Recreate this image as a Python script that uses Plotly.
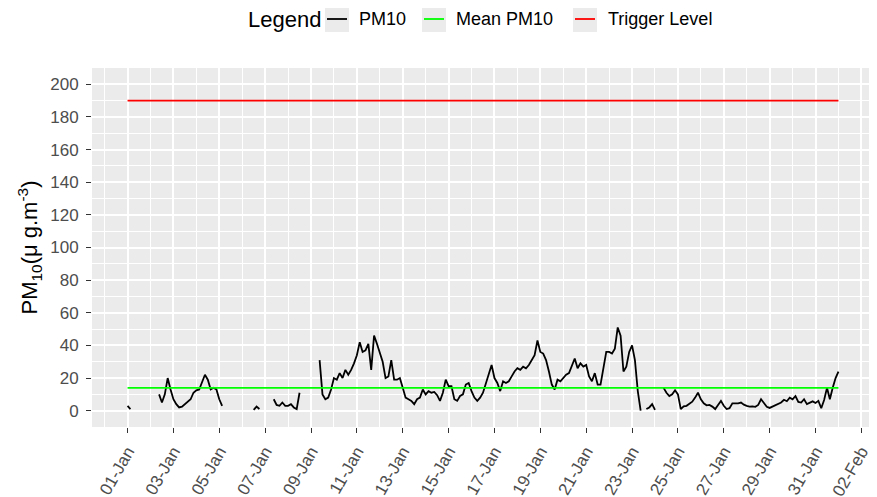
import pandas as pd
import plotly.graph_objects as go

# ---------------- data ----------------
start_time = "2021-01-01 00:00"
step = "3h"
# PM10, 3-hourly, one row per day (None = missing data)
pm10 = [
    3, 1, None, None, None, None, None, None,          # 01-Jan
    None, None, None, 10, 5, 10, 20, 13,               # 02-Jan
    7, 4, 2, 2.5, 4, 5, 7, 11,                         # 03-Jan
    12.5, 13, 17, 22, 19, 13, 14, 13,                  # 04-Jan
    7, 3, None, None, None, None, None, None,          # 05-Jan
    None, None, None, None, 0.5, 2.5, 1, None,         # 06-Jan
    None, None, None, 7, 3.5, 3, 5, 3,                 # 07-Jan
    3, 4, 2, 1, 11, None, None, None,                  # 08-Jan
    None, None, None, 31, 10, 7, 8, 13,                # 09-Jan
    20, 19, 23, 20, 25, 22, 25, 29,                    # 10-Jan
    34, 42, 36, 37, 41, 25, 46, 41,                    # 11-Jan
    36, 30, 20, 21, 31, 19, 19, 20,                    # 12-Jan
    14, 8, 7, 6, 4, 7, 8, 13,                          # 13-Jan
    10, 12, 11, 11.5, 9.5, 6, 11, 19,                  # 14-Jan
    15, 15, 7, 6, 9, 10, 16, 17,                       # 15-Jan
    12, 8, 6, 8, 11, 17, 22, 28,                       # 16-Jan
    20, 17, 12, 18, 17, 18, 21, 24,                    # 17-Jan
    26, 25, 27, 26, 28, 31, 34, 43,                    # 18-Jan
    36, 35, 31, 24, 16, 13, 19, 18,                    # 19-Jan
    20, 22, 23, 28, 32, 26, 29, 27,                    # 20-Jan
    28, 21, 18, 23, 16, 16, 25, 36,                    # 21-Jan
    36, 35, 38, 51, 46, 24, 27, 36,                    # 22-Jan
    40, 31, 12, 0, None, 1, 2, 4,                      # 23-Jan
    0.5, None, None, 14, 11, 9, 10, 12.5,              # 24-Jan
    10, 1, 2.7, 3, 4.5, 5.5, 8, 11,                    # 25-Jan
    7, 4.5, 3.3, 3.5, 2.5, 1, 3.5, 6,                  # 26-Jan
    3, 1, 1.5, 4.5, 4.5, 4.5, 5, 3.7,                  # 27-Jan
    3, 2.5, 2.6, 2.4, 3.5, 7, 4.7, 2.4,                # 28-Jan
    1.7, 2.5, 3.3, 4, 5, 6.7, 5.8, 8,                  # 29-Jan
    7, 9, 5.4, 5, 7, 4, 5, 5.7,                        # 30-Jan
    4.7, 6, 1.5, 6.5, 14, 7, 14, 20,                   # 31-Jan
    24,                                                # 01-Feb
]
mean_pm10 = 14.0
trigger_level = 190
legend_title = "Legend"
legend_labels = ["PM10", "Mean PM10", "Trigger Level"]
legend_colors = ["#000000", "#00FF00", "#FF0000"]

# ---------------- figure ----------------
# the page body has an 8px margin, so the figure is drawn 8px smaller
OFF = 8
W, H = 877 - OFF, 497 - OFF
L, R, T, B = 92 - OFF, 3, 68 - OFF, 70
PW, PH = W - L - R, H - T - B
FONT = "Liberation Sans, Arial, sans-serif"


def pxx(x):
    """reference-picture x pixel -> paper coordinate"""
    return (x - OFF - L) / PW


def pxy(y):
    """reference-picture y pixel -> paper coordinate"""
    return (T + PH - (y - OFF)) / PH


times = pd.date_range(start_time, periods=len(pm10), freq=step)
span = [times[0], times[-1]]
pad = (times[-1] - times[0]) * 0.05
DAY = 86400000

fig = go.Figure()
fig.add_trace(go.Scatter(x=times, y=pm10, mode="lines", name=legend_labels[0],
                         line=dict(color=legend_colors[0], width=1.8),
                         connectgaps=False, showlegend=False))
fig.add_trace(go.Scatter(x=span, y=[mean_pm10, mean_pm10], mode="lines", name=legend_labels[1],
                         line=dict(color=legend_colors[1], width=1.8), showlegend=False))
fig.add_trace(go.Scatter(x=span, y=[trigger_level, trigger_level], mode="lines", name=legend_labels[2],
                         line=dict(color=legend_colors[2], width=1.8), showlegend=False))

# custom ggplot-style legend (grey key boxes)
shapes = []
annotations = [dict(text=legend_title, x=pxx(246), y=pxy(19), xref="paper", yref="paper",
                    xanchor="left", yanchor="middle", showarrow=False,
                    font=dict(size=22, color="black", family=FONT))]
box_x = [325, 422, 573]
label_x = [357, 454, 606]
for bx, lx, lab, col in zip(box_x, label_x, legend_labels, legend_colors):
    shapes.append(dict(type="rect", xref="paper", yref="paper",
                       x0=pxx(bx), x1=pxx(bx + 24), y0=pxy(32), y1=pxy(6),
                       fillcolor="#EBEBEB", line=dict(width=0), layer="above"))
    shapes.append(dict(type="line", xref="paper", yref="paper",
                       x0=pxx(bx + 2), x1=pxx(bx + 22), y0=pxy(19), y1=pxy(19),
                       line=dict(color=col, width=1.8), layer="above"))
    annotations.append(dict(text=lab, x=pxx(lx), y=pxy(19), xref="paper", yref="paper",
                            xanchor="left", yanchor="middle", showarrow=False,
                            font=dict(size=18, color="black", family=FONT)))

fig.update_layout(
    width=W, height=H,
    margin=dict(l=L, r=R, t=T, b=B),
    paper_bgcolor="white", plot_bgcolor="#EBEBEB",
    font=dict(family=FONT),
    showlegend=False,
    shapes=shapes, annotations=annotations,
    xaxis=dict(
        type="date", range=[times[0] - pad, times[-1] + pad],
        tickmode="linear", tick0=times[0], dtick=2 * DAY, tickformat="%d-%b",
        tickangle=-60, ticks="outside", ticklen=5, tickwidth=1.1, tickcolor="#333333",
        ticklabelstandoff=2,
        tickfont=dict(size=17, color="#4D4D4D", family=FONT),
        showgrid=True, gridcolor="white", gridwidth=1.5,
        minor=dict(dtick=DAY, showgrid=True, gridcolor="white", gridwidth=0.75, ticks=""),
        zeroline=False, showline=False, automargin=False,
    ),
    yaxis=dict(
        range=[-10, 210], tickmode="linear", tick0=0, dtick=20,
        ticks="outside", ticklen=5, tickwidth=1.1, tickcolor="#333333",
        ticklabelstandoff=4,
        tickfont=dict(size=17, color="#4D4D4D", family=FONT),
        showgrid=True, gridcolor="white", gridwidth=1.5,
        minor=dict(dtick=10, showgrid=True, gridcolor="white", gridwidth=0.75, ticks=""),
        zeroline=False, showline=False, automargin=False,
        title=dict(text="PM<sub>10</sub>(μ g.m<sup>-3</sup>)", standoff=6,
                   font=dict(size=22, color="black", family=FONT)),
    ),
)

fig.write_html("out.html")
